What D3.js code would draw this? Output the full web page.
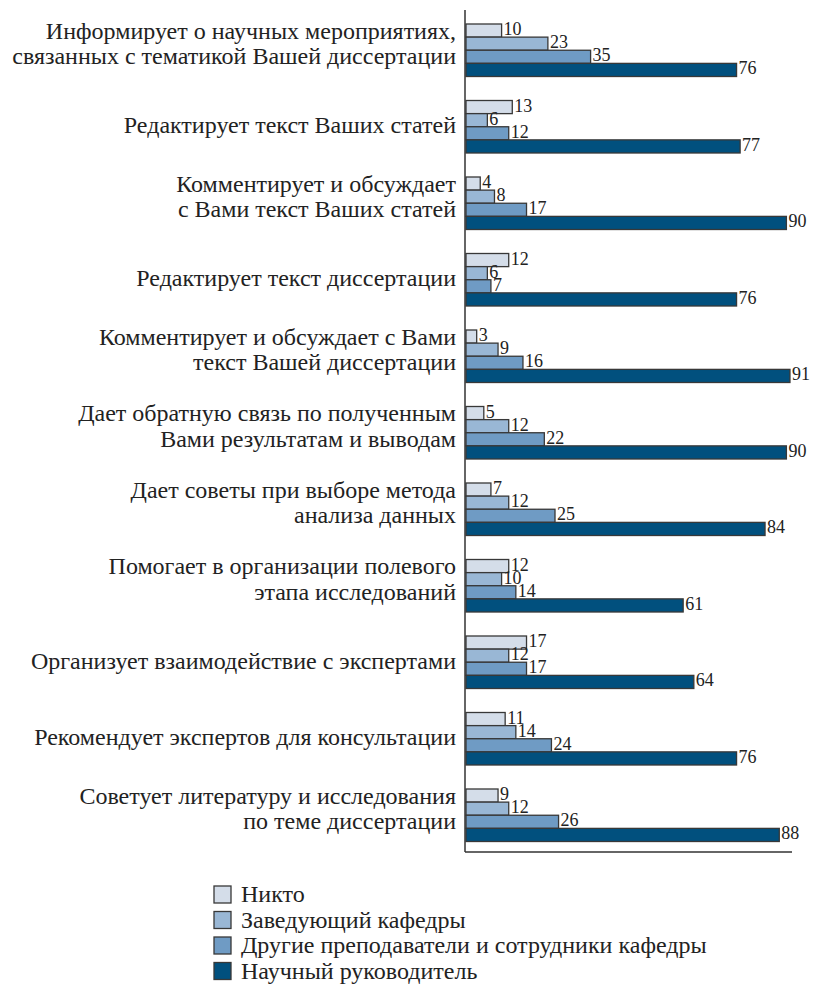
<!DOCTYPE html>
<html>
<head>
<meta charset="utf-8">
<script src="https://cdn.jsdelivr.net/npm/d3@7"></script>
</head>
<body style="margin:0">
<svg id="s" width="814" height="989"></svg>
<script>
// Question items (each label may span two lines)
const categories = [
  ["Информирует о научных мероприятиях,", "связанных с тематикой Вашей диссертации"],
  ["Редактирует текст Ваших статей"],
  ["Комментирует и обсуждает", "с Вами текст Ваших статей"],
  ["Редактирует текст диссертации"],
  ["Комментирует и обсуждает с Вами", "текст Вашей диссертации"],
  ["Дает обратную связь по полученным", "Вами результатам и выводам"],
  ["Дает советы при выборе метода", "анализа данных"],
  ["Помогает в организации полевого", "этапа исследований"],
  ["Организует взаимодействие с экспертами"],
  ["Рекомендует экспертов для консультации"],
  ["Советует литературу и исследования", "по теме диссертации"]
];

const seriesNames = [
  "Никто",
  "Заведующий кафедры",
  "Другие преподаватели и сотрудники кафедры",
  "Научный руководитель"
];

const nobody     = [10, 13, 4, 12, 3, 5, 7, 12, 17, 11, 9];
const headOfDept = [23, 6, 8, 6, 9, 12, 12, 10, 12, 14, 12];
const otherStaff = [35, 12, 17, 7, 16, 22, 25, 14, 17, 24, 26];
const supervisor = [76, 77, 90, 76, 91, 90, 84, 61, 64, 76, 88];

const seriesValues = [nobody, headOfDept, otherStaff, supervisor];
const colors = ["#d4dde9", "#99b7d5", "#6f9bc4", "#01507e"];
const face = "Liberation Serif";
const labelSize = 24;
const valueSize = 18;

const ctx = document.createElement("canvas").getContext("2d");
const svg = d3.select("#s");

// adds one line of text in the serif face
function addText(str, px, py, size, anchor) {
  ctx.font = `${size}px "${face}", monospace`;
  ctx.measureText(str);
  const t = svg.append("text")
    .attr("x", px).attr("y", py)
    .attr("font-size", size)
    .style("font-family", `"${face}", monospace`)
    .style("fill", "#222")
    .text(str);
  if (anchor) t.attr("text-anchor", anchor);
  return t;
}

const x0 = 466;
const x = d3.scaleLinear().domain([0, 100]).range([x0, x0 + 356]);

const y = d3.scaleBand()
  .domain(d3.range(categories.length))
  .range([12, 853.5])
  .paddingInner(0.3137)
  .paddingOuter(0.3137 / 2);

const yInner = d3.scaleBand()
  .domain(d3.range(seriesNames.length))
  .range([0, y.bandwidth()]);

// bars
categories.forEach((lines, i) => {
  const rows = seriesValues.map((vals, s) => ({ s, v: vals[i] }));
  svg.append("g")
    .selectAll("rect")
    .data(rows)
    .join("rect")
    .attr("x", x(0))
    .attr("y", d => y(i) + yInner(d.s))
    .attr("width", d => x(d.v) - x(0))
    .attr("height", yInner.bandwidth())
    .attr("fill", d => colors[d.s])
    .attr("stroke", "#383838")
    .attr("stroke-width", 1.3);
});

// axis lines
svg.append("line")
  .attr("x1", x(0) - 1).attr("x2", x(0) - 1)
  .attr("y1", 10).attr("y2", 852)
  .attr("stroke", "#333").attr("stroke-width", 1.5);
svg.append("line")
  .attr("x1", x(0) - 1).attr("x2", 792)
  .attr("y1", 852).attr("y2", 852)
  .attr("stroke", "#333").attr("stroke-width", 1.5);

// value labels
categories.forEach((lines, i) => {
  seriesValues.forEach((vals, s) => {
    addText(String(vals[i]), x(vals[i]) + 2,
      y(i) + yInner(s) + yInner.bandwidth() / 2 + 4.5, valueSize);
  });
});

// category labels
categories.forEach((lines, i) => {
  const lh = 25.5;
  const c = y(i) + y.bandwidth() / 2 + 6.5 - (lines.length > 1 ? 5.5 : 0);
  lines.forEach((line, k) => {
    addText(line, 456, c + (k - (lines.length - 1) / 2) * lh, labelSize, "end");
  });
});

// legend
seriesNames.forEach((name, i) => {
  const ly = 886 + i * 25.5;
  svg.append("rect")
    .attr("x", 214).attr("y", ly)
    .attr("width", 17).attr("height", 17)
    .attr("fill", colors[i])
    .attr("stroke", "#383838").attr("stroke-width", 1.3);
  addText(name, 241, ly + 16, labelSize);
});
</script>
</body>
</html>
